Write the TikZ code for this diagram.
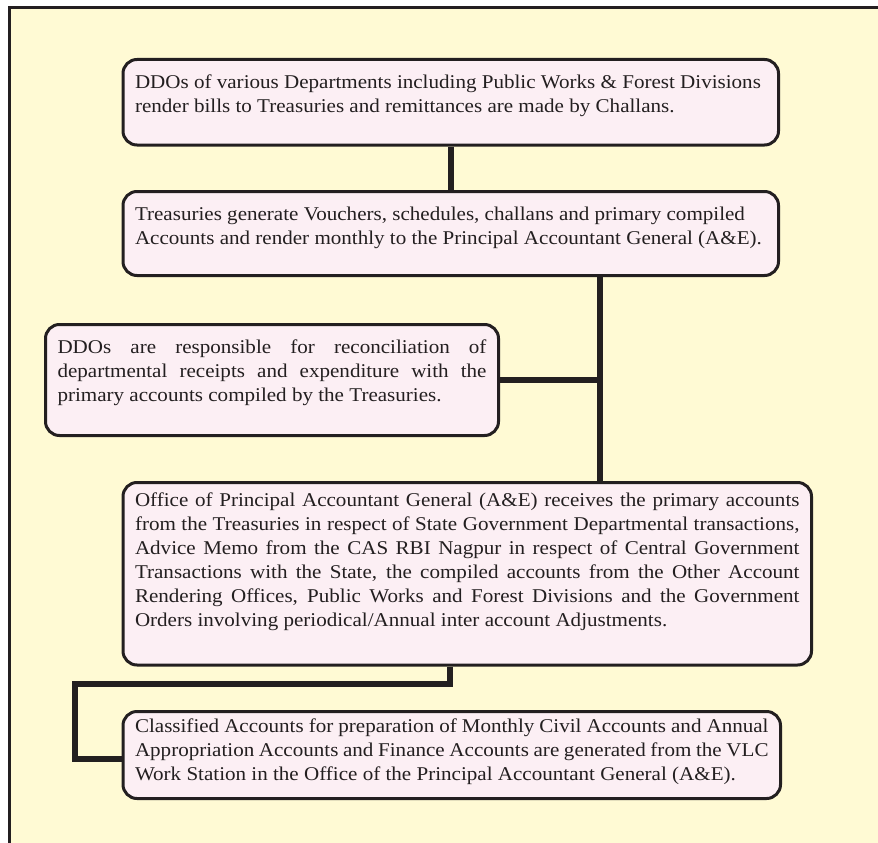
\documentclass[tikz,border=0pt]{standalone}
\usepackage{fontspec}
\setmainfont{Liberation Serif}[FakeStretch=1.08]
\usepackage{xcolor}
\usepackage{tikz}
\definecolor{page}{HTML}{FFFFFF}
\definecolor{panel}{HTML}{FFFAD4}
\definecolor{cardbg}{HTML}{FCEFF4}
\definecolor{ink}{HTML}{231F20}
\newcommand{\cardtext}[3]{\parbox[c][#2pt][t]{#1pt}{\hyphenpenalty=10000\fontsize{19.5}{24}\selectfont #3}}
\tikzset{
  frame/.style={draw=ink, fill=panel, line width=3pt},
  card/.style={draw=ink, fill=cardbg, line width=3pt, rounded corners=14pt, anchor=north west, inner xsep=12pt, inner ysep=15pt, text=ink},
  link/.style={draw=ink, line width=6pt, line join=miter},
}

\begin{document}
\begin{tikzpicture}[x=1pt, y=-1pt]
  \useasboundingbox[fill=page] (0,0) rectangle (878,843);
  \draw[frame] (9,7.5) rectangle (900,870);

  \node[card] (ddo) at (121.5,58) {\cardtext{631.5}{55.5}{\raggedright
    DDOs of various Departments including Public Works \& Forest Divisions\\
    render bills to Treasuries and remittances are made by Challans.}};
  \node[card] (tre) at (121.5,190) {\cardtext{631.5}{54}{\raggedright
    Treasuries generate Vouchers, schedules, challans and primary compiled\\
    Accounts and render monthly to the Principal Accountant General (A\&E).}};
  \node[card] (rec) at (44,323) {\cardtext{429}{81}{%
    DDOs are responsible for reconciliation of\linebreak
    departmental receipts and expenditure with the\linebreak
    primary accounts compiled by the Treasuries.}};
  \node[card, inner ysep=10pt] (ofc) at (121.5,481) {\cardtext{664.5}{162.5}{%
    Office of Principal Accountant General (A\&E) receives the primary accounts\linebreak
    from the Treasuries in respect of State Government Departmental transactions,\linebreak
    Advice Memo from the CAS RBI Nagpur in respect of Central Government\linebreak
    Transactions with the State, the compiled accounts from the Other Account\linebreak
    Rendering Offices, Public Works and Forest Divisions and the Government\linebreak
    Orders involving periodical/Annual inter account Adjustments.}};
  \node[card, inner ysep=7pt] (cls) at (121.5,710) {\cardtext{633.5}{73}{%
    Classified Accounts for preparation of Monthly Civil Accounts and Annual\linebreak
    Appropriation Accounts and Finance Accounts are generated from the VLC\linebreak
    Work Station in the Office of the Principal Accountant General (A\&E).}};

  % connectors
  \coordinate (spine) at (600,0);
  \coordinate (drop) at (450,684);
  \coordinate (back) at (75,759);
  \draw[link] (ddo.south) -- (tre.north);
  \draw[link] (tre.south -| spine) -- (ofc.north -| spine);
  \draw[link] (rec.east) -- (rec.east -| spine);
  \draw[link] (ofc.south -| drop) -- (drop) -| (back) -- (back -| cls.west);
\end{tikzpicture}
\end{document}
